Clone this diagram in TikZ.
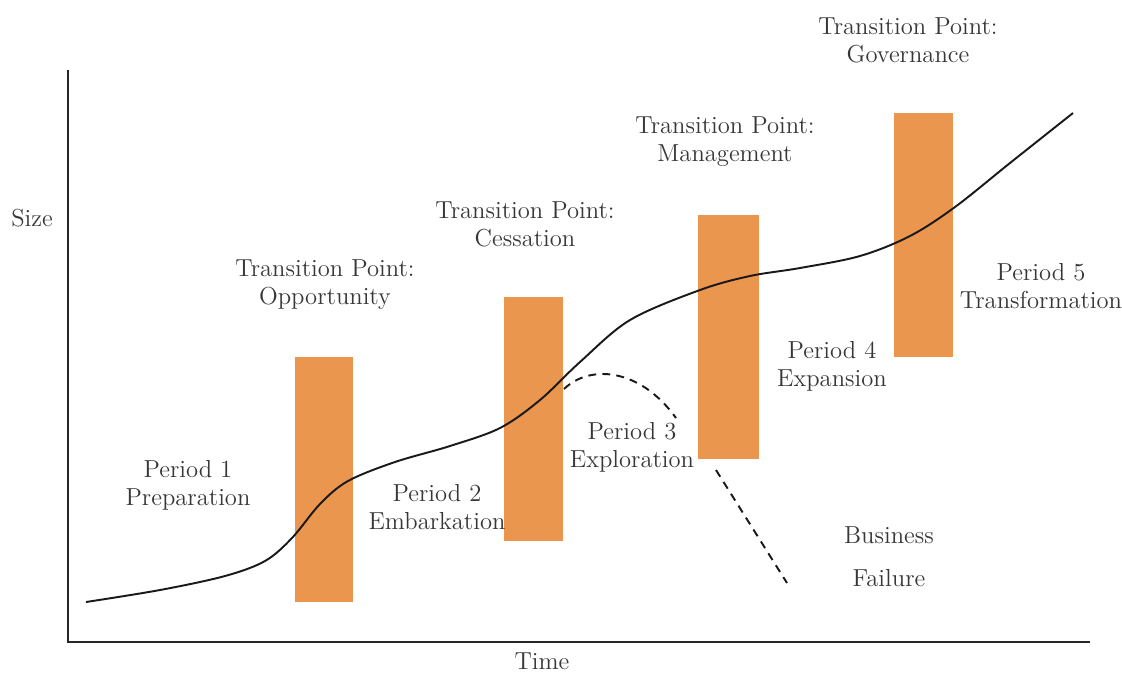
\documentclass[tikz,border=0pt]{standalone}
\usepackage{tikz}

\definecolor{barorange}{RGB}{234,150,78}
\definecolor{inkgray}{RGB}{55,55,55}

\tikzset{
	lbl/.style={text=inkgray, align=center, font=\fontsize{14}{16}\selectfont},
	phasebar/.style={fill=barorange, draw=none},
}

\begin{document}
\begin{tikzpicture}[x=0.02cm, y=-0.02cm]
			\useasboundingbox (0,0) rectangle (1122,674);
			% axes
			\coordinate (origin) at (68,642);
			\coordinate (ytop) at (68,70);
			\coordinate (xend) at (1090,642);
			\draw[line width=1.1pt, black!85] (ytop) -- (origin) -- (xend);
			% transition bars
			\begin{scope}[every path/.style={phasebar}]
				\fill (295,357) rectangle (353,602);
				\fill (504,297) rectangle (563,541);
				\fill (698,215) rectangle (759,459);
				\fill (894,113) rectangle (953,357);
			\end{scope}
			% growth curve
			\draw[line width=1.1pt, black!90] plot[smooth, tension=0.55] coordinates {
				(86,602) (160,590) (225,576) (265,561) (292,538) (320,504)
				(348,481) (395,462) (450,446) (500,428) (540,400) (580,362)
				(630,320) (700,290) (750,276) (800,268) (860,256) (910,236)
				(955,207) (1010,163) (1073,113)};
			% failure branch
			\begin{scope}[every path/.style={draw=black!90, line width=1.1pt, dash pattern=on 4.5pt off 3.5pt}]
				\path (564,389) .. controls (590,364) and (640,368) .. (676,418);
				\path (716,470) -- (787,583);
			\end{scope}
			% labels
			\begin{scope}[every node/.style={lbl}]
				\node (size) at (32,218) {Size};
				\node[anchor=base, inner sep=1pt] (time) at (542,669) {Time};
				\node (tp1) at (325,285) {Transition Point:\\Opportunity};
				\node (tp2) at (525,224) {Transition Point:\\Cessation};
				\node (tp3) at (725,142) {Transition Point:\\Management};
				\node (tp4) at (908,40) {Transition Point:\\Governance};
				\node (p1) at (188,485) {Period 1\\Preparation};
				\node (p2) at (437,507) {Period 2\\Embarkation};
				\node (p3) at (632,447) {Period 3\\Exploration};
				\node (p4) at (832,366) {Period 4\\Expansion};
				\node (p5) at (1041,286) {Period 5\\Transformation};
				\node (bus) at (889,535) {Business};
				\node (fail) at (889,578) {Failure};
			\end{scope}
		\end{tikzpicture}
\end{document}
